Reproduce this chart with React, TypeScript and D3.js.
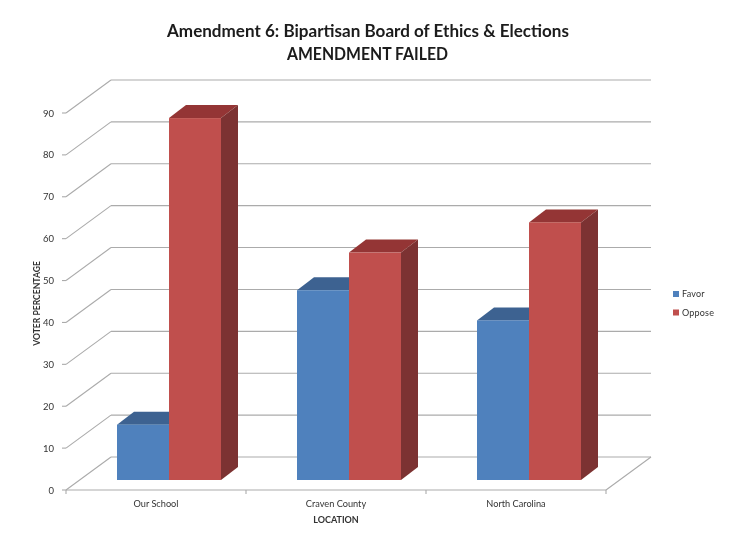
import React from "react";
import * as d3 from "d3";

const titleLines = ["Amendment 6: Bipartisan Board of Ethics & Elections", "AMENDMENT FAILED"];
const categories = ["Our School", "Craven County", "North Carolina"];
const favorValues = [13.2, 45.3, 38.1];
const opposeValues = [86.4, 54.3, 61.5];
const yTicks = [0, 10, 20, 30, 40, 50, 60, 70, 80, 90];
const seriesNames = ["Favor", "Oppose"];
const xAxisTitle = "LOCATION";
const yAxisTitle = "VOTER PERCENTAGE";

const W = 736, H = 552;
const font = "Lato, 'Open Sans', sans-serif";
const wallDx = 45, wallDy = -33;
const barDx = 17, barDy = -13;
const baseLift = 10;
const gridColor = "#ababab";
const textColor = "#333";

const colors = {
  Favor: { front: "#4f81bd", top: "#3c6291", side: "#345578" },
  Oppose: { front: "#c0504d", top: "#943634", side: "#7c3230" },
} as const;

export default function App() {
  const x = d3.scaleBand<string>().domain(categories).range([66, 606]);
  const y = d3.scaleLinear().domain([0, 90]).range([490, 113]);
  const sub = d3.scaleBand<string>().domain(seriesNames).range([51, 155]);
  const base = y(0) - baseLift;
  const h = (v: number) => y(0) - y(v);

  const bar = (cat: string, name: "Favor" | "Oppose", v: number) => {
    const x0 = (x(cat) as number) + (sub(name) as number);
    const w = sub.bandwidth();
    const t = base - h(v);
    const c = colors[name];
    const path = (pts: [number, number][]) => d3.line()(pts) + "Z";
    return (
      <g key={cat + name}>
        <path fill={c.top} d={path([[x0, t], [x0 + barDx, t + barDy], [x0 + w + barDx, t + barDy], [x0 + w, t]])} />
        <path fill={c.side} d={path([[x0 + w, t], [x0 + w + barDx, t + barDy], [x0 + w + barDx, base + barDy], [x0 + w, base]])} />
        <rect x={x0} y={t} width={w} height={base - t} fill={c.front} />
      </g>
    );
  };

  return (
    <svg width={W} height={H} viewBox={`0 0 ${W} ${H}`} style={{ position: "absolute", left: 0, top: 0, background: "#fff" }} fontFamily={font}>
      <defs>
        <filter id="soft" x="0" y="0" width="100%" height="100%" filterUnits="userSpaceOnUse" primitiveUnits="userSpaceOnUse">
          <feGaussianBlur stdDeviation={0.35} />
        </filter>
      </defs>
      <g filter="url(#soft)">
        <text x={368} y={37} textAnchor="middle" fontSize={16.5} fontWeight={700} fill="#1a1a1a" textLength={402} lengthAdjust="spacingAndGlyphs">{titleLines[0]}</text>
        <text x={367.5} y={60} textAnchor="middle" fontSize={16.5} fontWeight={700} fill="#1a1a1a" textLength={161} lengthAdjust="spacingAndGlyphs">{titleLines[1]}</text>

        {yTicks.map((t) => (
          <g key={t} stroke={gridColor} strokeWidth={1.1} fill="none">
            {t > 0 && <line x1={66} y1={y(t)} x2={66 + wallDx} y2={y(t) + wallDy} />}
            <line x1={66 + wallDx} y1={y(t) + wallDy} x2={606 + wallDx} y2={y(t) + wallDy} />
          </g>
        ))}
        <g stroke={gridColor} strokeWidth={1.1} fill="none">
          <line x1={66} y1={y(0)} x2={66 + wallDx} y2={y(0) + wallDy} />
          <line x1={606} y1={y(0)} x2={606 + wallDx} y2={y(0) + wallDy} />
          <line x1={66} y1={y(0)} x2={606} y2={y(0)} />
          {[66, 246, 426, 606].map((v) => <line key={v} x1={v} y1={y(0)} x2={v} y2={y(0) + 4} />)}
          {yTicks.map((t) => <line key={t} x1={62} y1={y(t)} x2={66} y2={y(t)} />)}
        </g>

        {categories.map((c, i) => (
          <g key={c}>
            {bar(c, "Favor", favorValues[i])}
            {bar(c, "Oppose", opposeValues[i])}
          </g>
        ))}

        {yTicks.map((t) => (
          <text key={t} x={54} y={y(t) + 3.5} textAnchor="end" fontSize={9.5} fill={textColor}>{t}</text>
        ))}
        {categories.map((c) => (
          <text key={c} x={(x(c) as number) + x.bandwidth() / 2} y={507} textAnchor="middle" fontSize={9.2} fill={textColor}>{c}</text>
        ))}
        <text x={336} y={523} textAnchor="middle" fontSize={9} fontWeight={700} fill={textColor}>{xAxisTitle}</text>
        <text transform="translate(40,303.5) rotate(-90)" textAnchor="middle" fontSize={8.6} fontWeight={700} fill={textColor}>{yAxisTitle}</text>

        {seriesNames.map((s, i) => (
          <g key={s}>
            <rect x={673} y={291 + i * 18.5} width={6} height={6} fill={colors[s as "Favor" | "Oppose"].front} />
            <text x={682} y={297 + i * 18.5} fontSize={9} letterSpacing={0.2} fill={textColor}>{s}</text>
          </g>
        ))}
      </g>
    </svg>
  );
}
